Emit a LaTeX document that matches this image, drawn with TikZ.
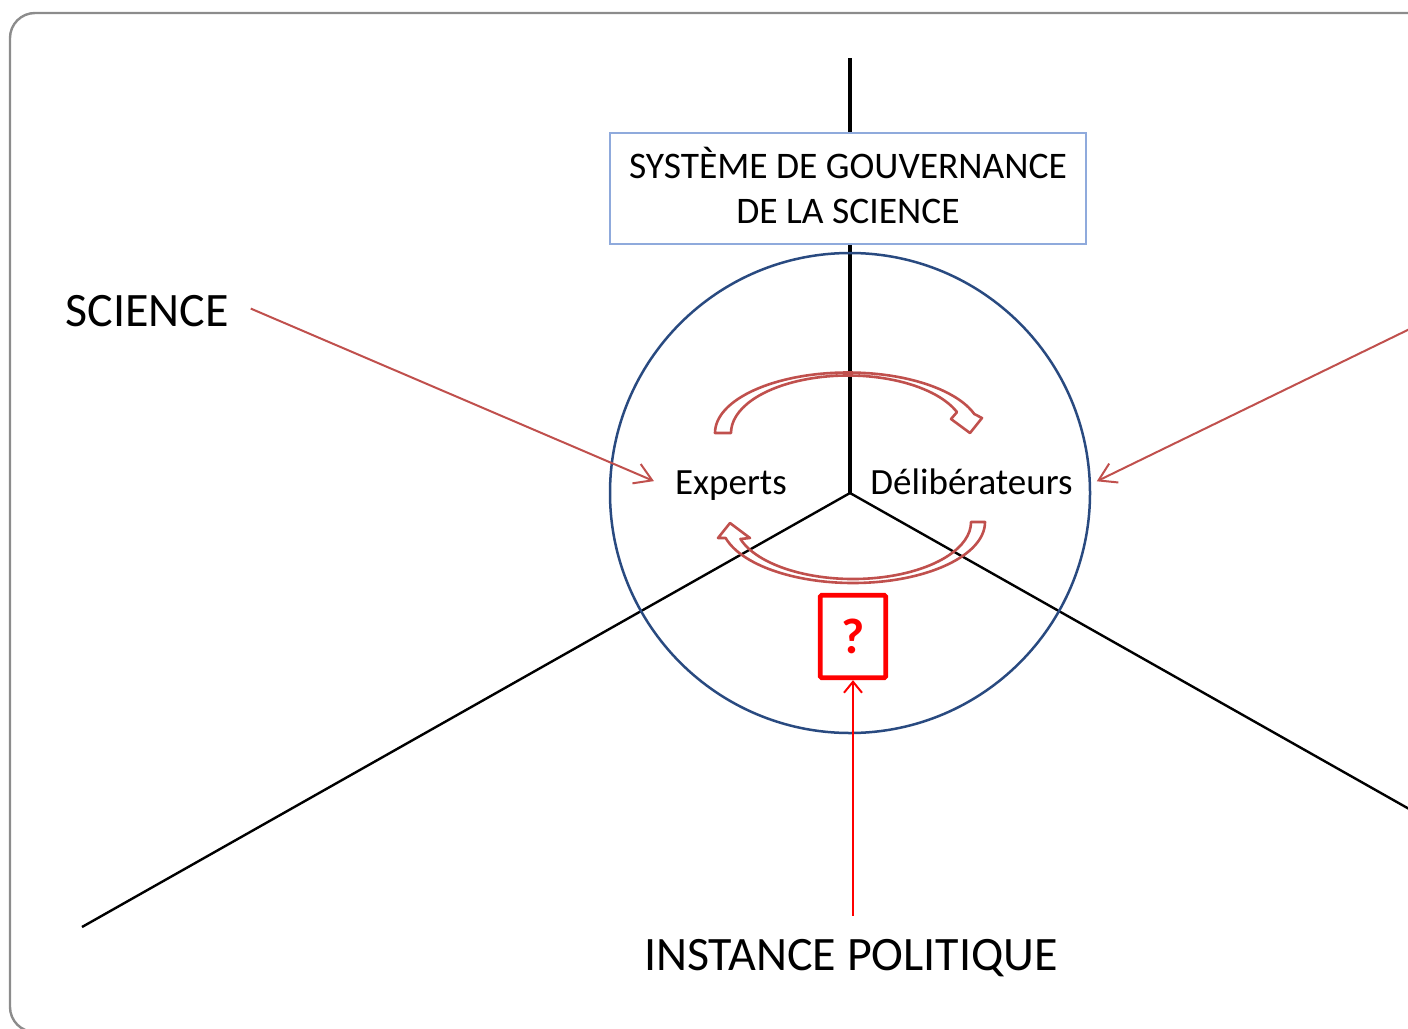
\documentclass[tikz,border=0pt]{standalone}
\usepackage{fontspec}
\setmainfont{Carlito}
\usetikzlibrary{arrows.meta}
\definecolor{arrowred}{RGB}{192,80,77}
\definecolor{circblue}{RGB}{41,74,128}
\definecolor{boxblue}{RGB}{143,170,220}
\definecolor{framegray}{RGB}{140,140,140}
\begin{document}
\begin{tikzpicture}[x=1pt,y=1pt,
  big/.style={font=\fontsize{48}{58}\selectfont, inner sep=0pt, anchor=base},
  mid/.style={font=\fontsize{37}{45}\selectfont, inner sep=0pt, anchor=base},
  axisline/.style={black, line width=2.4pt},
  redarrow/.style={arrowred, line width=2pt, -{Straight Barb[length=17pt,width=21pt]}},
  cyclearrow/.style={arrowred, line width=2.6pt, line join=round},
  titlebox/.style={draw=boxblue, fill=white, line width=1.4pt, minimum width=476pt, minimum height=111pt, inner sep=0pt},
  qbox/.style={draw=red, line width=4.8pt, rounded corners=1.5pt, minimum width=65.5pt, minimum height=82.5pt, inner sep=0pt, text=red, font=\bfseries\fontsize{50}{58}\selectfont}]
\useasboundingbox (0,0) rectangle (1408,-1028);
\clip (0,0) rectangle (1408,-1028);
\draw[framegray, line width=2.4pt, rounded corners=25pt] (10,-13) rectangle (1440,-1032);

\coordinate (O) at (850,-493);
\coordinate (T) at (850,-58);
\coordinate (L) at (82,-927);
\coordinate (R) at (1618,-927);
\draw[axisline, line width=3.2pt] (O) -- (T);
\draw[axisline] (O) -- (L);
\draw[axisline] (O) -- (R);
\node[circle, draw=circblue, line width=2.5pt, minimum size=480pt, inner sep=0pt] (circ) at (O) {};

\node[titlebox] (title) at (848,-188.5) {};
\node[align=center, anchor=base, inner sep=0pt, font=\fontsize{37.5}{45}\selectfont] (titletext) at (848,-223.5) {SYSTÈME DE GOUVERNANCE\\DE LA SCIENCE};

\node[mid] (exp) at (731,-494) {Experts};
\node[mid] (del) at (971.5,-494) {Délibérateurs};
\node[big] (sci) at (147,-326) {SCIENCE};
\node[big] (ip) at (851,-970) {INSTANCE POLITIQUE};
\node[qbox] (q) at (853,-636.5) {?};

\coordinate (rstart) at (1420,-324);
\draw[redarrow] ([xshift=22pt,yshift=2pt]sci.east) -- ([xshift=-21pt,yshift=4pt]exp.west);
\draw[redarrow] (rstart) -- ([xshift=24pt,yshift=0pt]del.east);
\draw[red, line width=2pt, -{Straight Barb[length=11pt,width=18pt]}] ([xshift=2pt,yshift=23pt]ip.north) -- (q.south);

\draw[cyclearrow] (715,-433) arc[start angle=180, end angle=18.3, x radius=133, y radius=60.5]
  -- (982,-418) -- (970,-433) -- (951,-419) -- (957,-412.1)
  arc[start angle=21.3, end angle=180, x radius=117, y radius=57.5] -- cycle;
\draw[cyclearrow] (985,-522) arc[start angle=0, end angle=-164.8, x radius=132, y radius=61]
  -- (718,-538) -- (730,-523) -- (750,-538) -- (740.4,-539)
  arc[start angle=-162.65, end angle=0, x radius=118, y radius=57] -- cycle;
\end{tikzpicture}
\end{document}
